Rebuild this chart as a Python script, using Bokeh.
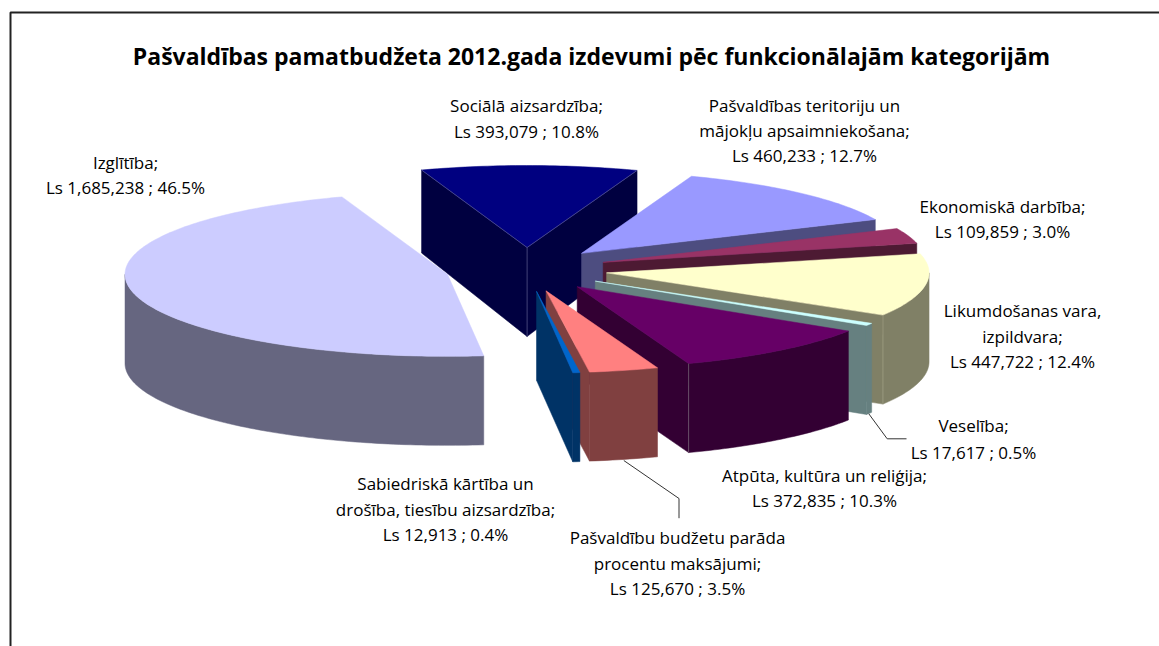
import numpy as np
from bokeh.embed import file_html
from bokeh.resources import INLINE
from bokeh.plotting import figure
from bokeh.models import Range1d
from bokeh.core.properties import value

# ---- data, clockwise as in the chart ----
categories = ["Sociālā aizsardzība", "Pašvaldības teritoriju un mājokļu apsaimniekošana",
              "Ekonomiskā darbība", "Likumdošanas vara, izpildvara", "Veselība",
              "Atpūta, kultūra un reliģija", "Pašvaldību budžetu parāda procentu maksājumi",
              "Sabiedriskā kārtība un drošība, tiesību aizsardzība", "Izglītība"]
values = [393079, 460233, 109859, 447722, 17617, 372835, 125670, 12913, 1685238]
percents = ["10.8%", "12.7%", "3.0%", "12.4%", "0.5%", "10.3%", "3.5%", "0.4%", "46.5%"]
title_text = "Pašvaldības pamatbudžeta 2012.gada izdevumi pēc funkcionālajām kategorijām"

# ---- styles ----
top_colors = ["#000080", "#9999FF", "#993366", "#FFFFCC", "#CCFFFF", "#660066", "#FF8080", "#0066CC", "#CCCCFF"]
side_colors = ["#000040", "#4D4D80", "#4D1A33", "#808066", "#668080", "#330033", "#804040", "#003366", "#666680"]
seam_colors = ["#5A5A90", None, None, "#A0A088", None, "#7A6A7A", None, None, None]

# ---- label layout: wrapped lines with centre x and centre y ----
label_lines = [
    ["Sociālā aizsardzība;"],
    ["Pašvaldības teritoriju un", "mājokļu apsaimniekošana;"],
    ["Ekonomiskā darbība;"],
    ["Likumdošanas vara,", "izpildvara;"],
    ["Veselība;"],
    ["Atpūta, kultūra un reliģija;"],
    ["Pašvaldību budžetu parāda", "procentu maksājumi;"],
    ["Sabiedriskā kārtība un", "drošība, tiesību aizsardzība;"],
    ["Izglītība;"],
]
label_x = [526, 804, 1002, 1022, 973, 824, 677, 445, 125]
label_y0 = [105, 105, 206, 310, 425, 475, 537, 483, 162]
label_step = [26, 25, 25, 25.5, 27, 25, 25.5, 25.5, 25]

# ---- pie geometry (pixels of the page) ----
WIDTH, HEIGHT = 1159, 646
CX, CY = 526, 269
RA, RB = 322.5, 82
EA, EB = 81, 22
START = -19.1

p = figure(width=WIDTH, height=HEIGHT, x_range=Range1d(0, WIDTH), y_range=Range1d(HEIGHT, 0),
           output_backend="svg", toolbar_location=None, min_border=0, outline_line_color=None,
           background_fill_color="white", border_fill_color="white")
p.axis.visible = False
p.grid.visible = False

# chart frame (its right and bottom sides lie outside the picture)
p.line([10, 10, WIDTH + 5], [HEIGHT + 5, 12, 12], line_color="#222222", line_width=2)


def depth(y):
    return np.clip(83 + (np.asarray(y, dtype=float) - 170) * 0.09, 83, 89)


def rim(ax, ay, t):
    t = np.radians(t)
    return ax + RA * np.sin(t), ay - RB * np.cos(t)


total = sum(values)
spans = [v / total * 360 for v in values]
starts = START + np.cumsum([0] + spans[:-1])

for i in range(len(values)):
    t0, t1 = starts[i], starts[i] + spans[i]
    tm = np.radians((t0 + t1) / 2)
    ax, ay = CX + EA * np.sin(tm), CY - EB * np.cos(tm)
    top, side = top_colors[i], side_colors[i]
    s0, s1 = np.sin(np.radians(t0)), np.sin(np.radians(t1))

    def face(t):
        x, y = rim(ax, ay, t)
        p.patch([ax, x, x, ax], [ay, y, y + depth(y), ay + depth(ay)], fill_color=side, line_color=side, line_width=0.5)

    if s0 < 0:
        face(t0)
    if s1 > 0:
        face(t1)
    lo, hi = max(t0, 90), min(t1, 270)
    if lo < hi:
        th = np.linspace(lo, hi, max(3, int(hi - lo) + 1))
        x, y = rim(ax, ay, th)
        p.patch(np.r_[x, x[::-1]], np.r_[y, (y + depth(y))[::-1]], fill_color=side, line_color=side, line_width=0.5)
    th = np.linspace(t0, t1, max(3, int(t1 - t0) + 1))
    x, y = rim(ax, ay, th)
    p.patch(np.r_[ax, x], np.r_[ay, y], fill_color=top, line_color=top, line_width=0.5)
    if seam_colors[i]:
        if i == 0:
            p.line([ax, ax], [ay, ay + depth(ay)], line_color=seam_colors[i], line_width=0.7)
            for t in (t0, t1):
                ex, ey = rim(ax, ay, t)
                p.line([ax, ex], [ay, ey], line_color=seam_colors[i], line_width=0.7)
        else:
            ex, ey = rim(ax, ay, t1)
            p.line([ex, ex], [ey, ey + depth(ey)], line_color=seam_colors[i], line_width=0.7)

# leader lines
leader_x = [[868.3, 886.7, 906], [623.3, 678.5, 678.5]]
leader_y = [[413.3, 438.3, 438.3], [460, 498, 517.7]]
p.multi_line(leader_x, leader_y, line_color="#333333", line_width=1)

# title
p.text([591], [55], text=[title_text], text_font=value("Open Sans"), text_font_size="23px", text_font_style="bold",
       text_align="center", text_baseline="middle", text_color="black")


def money(v):
    return f"Ls {v:,} ; "


for i in range(len(values)):
    lines = label_lines[i] + [money(values[i]) + percents[i]]
    ys = [label_y0[i] + k * label_step[i] for k in range(len(lines))]
    p.text([label_x[i]] * len(lines), ys, text=lines, text_font=value("Open Sans"), text_font_size="17px",
           text_align="center", text_baseline="middle", text_color="black")

open("out.html", "w").write(file_html(p, INLINE))
